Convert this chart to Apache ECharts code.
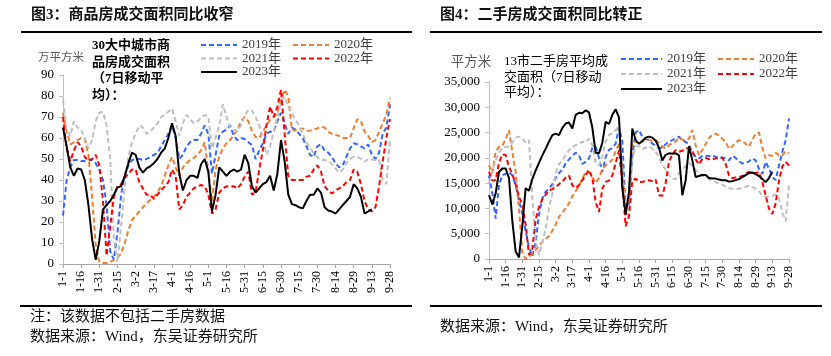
<!DOCTYPE html>
<html><head><meta charset="utf-8">
<script src="https://cdn.jsdelivr.net/npm/echarts/dist/echarts.min.js"></script>
<style>html,body{margin:0;padding:0;background:#fff}#c{width:831px;height:356px}</style>
</head><body><div id="c"></div>
<script>
// categories: every third day of the year (1-1 ... 9-28)
const dates = ['1-1','1-4','1-7','1-10','1-13','1-16','1-19','1-22','1-25','1-28','1-31',
 '2-3','2-6','2-9','2-12','2-15','2-18','2-21','2-24','2-27',
 '3-2','3-5','3-8','3-11','3-14','3-17','3-20','3-23','3-26','3-29',
 '4-1','4-4','4-7','4-10','4-13','4-16','4-19','4-22','4-25','4-28',
 '5-1','5-4','5-7','5-10','5-13','5-16','5-19','5-22','5-25','5-28','5-31',
 '6-3','6-6','6-9','6-12','6-15','6-18','6-21','6-24','6-27','6-30',
 '7-3','7-6','7-9','7-12','7-15','7-18','7-21','7-24','7-27','7-30',
 '8-2','8-5','8-8','8-11','8-14','8-17','8-20','8-23','8-26','8-29',
 '9-1','9-4','9-7','9-10','9-13','9-16','9-19','9-22','9-25','9-28'];

const yearNames = ['2019年','2020年','2021年','2022年','2023年'];

// 图3: 30大中城市商品房成交面积 (万平方米)
const newHome2019 = [23,40,46,49.5,49.5,49,49,50,49.5,48,
 45,40,28,6,2,15,33,42,47,49.5,
 50,50,49.5,50,51,52,53,56,59,62,
 66,60,50,52,56,58,59,59,62,66,
 62,43,52,61,63,64,66,61,59,60,
 59.5,58,56.7,50,54,57.5,62,63,63,68,
 72,67,62,65,64,62,60,56,52,51,
 56,57,54,53,51,48,46,47,51,55,
 57.5,57,56,55,57,52,50,53,62,65,
 76];
const newHome2020 = [72,63,57,58,59,60,59.5,52,32,9,
 1,0.5,0.5,1,2,3,5,10,16,21,
 23,25,27,29,30.5,32,34,37,42,47,
 51,46,42,46,48,49.5,50.5,52,54,58,
 44,30,45,51,55,57.5,59,61.5,64,68,
 70,68,63.5,60.5,60,63,66,68.6,70,72,
 78,83,80,64,63.5,64,64.6,63.5,63.5,64,
 64.6,65.4,65,63,62,61.5,61,60,60,60,
 64.6,69,68,63,61,58,59,63,67,71,
 79];
const newHome2021 = [78,64,61,68,65,64,60,55,59,68,
 72,72.5,66,50,12,1,18,37,51,58,
 62,66,65,62,63,65,67,70,71,72.5,
 74,68,61,67,71,69,67,68,69.5,71,
 70,55,60,66,76,70,65,64,63,66,
 70.5,73.5,73,70,66,60,52,56,63,70,
 77,79.7,75,71.7,68.6,66,62,58,55,53,
 51,49.5,49.6,49,47.5,45.5,43.5,45,48,50,
 51,51,50,48.7,50,49.8,49.5,49.5,40,38,
 59];
const newHome2022 = [70,55,49,54,58,56,51,49,50,52,
 47,30,4,18,32,37,38,41,43,45,
 45,39,36,33,33,31,33,35,37,39,
 45,42,26,28,32,34,36,37,37.6,37,
 33,24,26,34,36,37,36.8,37,36,38,
 41.6,44,33,34,45,54,66,75,70,75,
 83,62,42,40,40,40,40,41.6,42,45,
 47,44,37,35,33.6,35,36,37,39,40,
 45,44,38,30,26,25,27,37,49,60,
 69];
const newHome2023 = [65,56,46,42,45.5,45,40,28,12,2,
 11,26,28,30,33,36.5,37,42,48,53,
 52,46,43.5,45.5,46.5,48,50,53,55,60,
 67,61,43,35,40,42,42,41,47.5,50,
 44,25,33,46,44,42,44,45,44,45,
 52,48,37,34,36,38,39,42,35,43,
 59,49,33,28.5,28,27,26.5,30,33,33,
 36,34,27,25.5,25,24,26,28,30,32,
 38,36,32,24,25,26,null,null,null,null,
 null];

// 图4: 13市二手房平均成交面积 (平方米)
const usedHome2019 = [16500,13000,8000,14600,16600,16800,17200,16500,14600,11500,
 9000,5500,2300,500,3300,8800,12000,13300,13900,14800,
 16000,17000,17700,18900,19700,20400,21000,20500,18800,19200,
 19900,22000,22200,20000,17200,20200,21550,22000,22800,26000,
 23200,10000,11000,20500,25000,25500,24200,23700,23500,22800,
 22400,21900,22000,22700,23200,23500,23800,24200,23400,23200,
 22600,21000,20200,19900,20400,20400,20300,20500,20200,19900,
 20100,19900,19500,20400,20000,19300,18900,19000,19300,19900,
 19500,17800,16800,19200,17900,16200,15600,18500,21200,23500,
 27800];
const usedHome2020 = [18560,17000,21200,22200,22400,23700,25500,21200,17200,10000,
 1300,0,300,1100,1800,2600,3400,4000,4500,5600,
 6800,8300,9200,10000,11000,12400,13400,14400,16000,17100,
 17240,16200,15000,16000,17800,18500,19000,19700,21300,22800,
 18000,9500,12000,23200,23200,22900,23300,23800,23600,23300,
 23500,23000,22200,21900,22500,22900,23200,24000,23600,23500,
 23800,25500,22500,20500,21600,22700,23900,24600,24800,24400,
 23800,23100,21800,22300,23000,23500,23300,22800,22200,23600,
 24800,25000,22000,19900,20500,20400,21000,20500,20500,21300,
 20900];
const usedHome2021 = [15000,17500,19500,21000,22000,22200,22200,23000,24000,24200,
 23800,23000,23500,12000,3500,800,3300,6000,10000,13000,
 17000,18800,19500,20500,21500,22200,22500,22700,23200,23000,
 23800,22500,19000,18500,20500,23200,24500,24900,25500,26300,
 18000,8500,9500,19500,22300,22300,21800,22000,22300,21800,
 21300,20000,18500,17700,16600,15900,15800,17000,17700,18400,
 19000,18500,17600,17000,16500,16200,15800,15400,15200,14900,
 14700,14300,14000,13900,13900,13900,14100,14300,14500,14200,
 13900,13400,12500,12300,12300,12500,12800,12000,9200,7500,
 14600];
const usedHome2022 = [17240,15500,15600,19000,20700,20550,18200,16800,14800,12300,
 10800,6800,800,2000,7800,10300,11800,12700,13600,13800,
 14200,14800,15300,16100,16500,14600,14000,14600,15600,16600,
 17600,16000,11270,9300,13900,15250,15500,16500,19000,21500,
 15000,6500,8500,15500,15900,15250,15250,15400,15580,15400,
 15700,12600,12500,15000,19200,20700,21550,21200,21400,21900,
 21900,21500,19700,18700,19800,20000,19700,19700,19900,20100,
 20000,18800,16500,16000,16100,16200,16400,16900,17200,17000,
 17000,17200,15250,12600,9950,8900,11000,15500,18300,19200,
 18500];
const usedHome2023 = [12600,10800,13000,17200,17900,17900,16000,7500,1500,300,
 6600,14000,13500,15800,17500,19000,20500,21800,23200,24500,
 24800,24500,25900,26800,27000,25800,28500,28900,28800,29400,
 29000,26000,21000,20900,23000,27100,26700,28500,29600,28000,
 14000,8800,13260,25800,23500,22800,23300,24000,24200,24000,
 23400,22000,19500,20600,20900,20800,20900,20500,12600,15580,
 22300,19500,16200,16400,16600,16600,16000,15900,15900,15700,
 15580,15580,15300,15400,15600,15800,16200,16600,17000,17100,
 16800,16400,15800,15200,16000,17240,null,null,null,null,
 null];

const colors = ['#3366FF','#ED7D31','#BFBFBF','#FF0000','#000000'];
const SERIF = '"Liberation Serif","Noto Sans CJK SC",serif';
const CJK = '"Liberation Serif","Noto Sans CJK SC",sans-serif';

function mk(name, data, idx, gi){
  const solid = idx === 4;
  return {type:'line', name:name, data:data, xAxisIndex:gi, yAxisIndex:gi,
    symbol:'none', showSymbol:false, silent:true, connectNulls:false,
    lineStyle:{color:colors[idx], width:2, type: solid ? 'solid' : [5,3]},
    itemStyle:{color:colors[idx]}, z: 2 + idx};
}
const leftData = [newHome2019,newHome2020,newHome2021,newHome2022,newHome2023];
const rightData = [usedHome2019,usedHome2020,usedHome2021,usedHome2022,usedHome2023];
const series = [];
leftData.forEach((d,i)=>series.push(mk(yearNames[i], d, i, 0)));
rightData.forEach((d,i)=>series.push(mk(yearNames[i], d, i, 1)));

function xAx(gi){
  return {type:'category', gridIndex:gi, data:dates, boundaryGap:false,
    axisLine:{show:true, lineStyle:{color:'#a6a6a6', width:1}},
    axisTick:{show:true, interval:4, length:4, lineStyle:{color:'#a6a6a6'}},
    axisLabel:{interval:4, rotate:90, margin:7, fontFamily:SERIF, fontSize:12, color:'#000'},
    splitLine:{show:false}};
}
function yAx(gi, max, interval){
  return {type:'value', gridIndex:gi, min:0, max:max, interval:interval,
    axisLine:{show:true, lineStyle:{color:'#bfbfbf', width:1}},
    axisTick:{show:true, length:4, lineStyle:{color:'#bfbfbf'}},
    axisLabel:{margin:9, fontFamily:SERIF, fontSize:13, color:'#000'},
    splitLine:{show:false}};
}
const legText = {fontFamily:CJK, fontSize:13, color:'#404040'};
function leg(left, top, gap, w, names){
  return {orient:'vertical', left:left, top:top, itemGap:gap, itemWidth:w, itemHeight:10,
    padding:0, data:names, textStyle:legText, selectedMode:false,
    itemStyle:{opacity:0}};
}

const chart = echarts.init(document.getElementById('c'), null, {renderer:'canvas'});
chart.setOption({
  animation:false,
  backgroundColor:'#fff',
  grid:[
    {left:63, right:441, top:75, bottom:92, containLabel:false, outerBoundsMode:'none'},
    {left:489, right:42, top:82, bottom:97, containLabel:false, outerBoundsMode:'none'}
  ],
  xAxis:[xAx(0), xAx(1)],
  yAxis:[yAx(0, 90, 10), yAx(1, 35000, 5000)],
  legend:[
    leg(200, 38.5, 0.5, 36, ['2019年','2021年','2023年']),
    leg(292, 38.5, 0.5, 36, ['2020年','2022年']),
    leg(620, 52.5, 2, 41, ['2019年','2021年','2023年']),
    leg(717, 52.5, 2, 36, ['2020年','2022年'])
  ],
  series:series,
  graphic:[
    {type:'text', x:31, y:15, style:{text:'图3：商品房成交面积同比收窄', fontFamily:CJK, fontWeight:'bold', fontSize:15, fill:'#111', verticalAlign:'middle'}},
    {type:'text', x:440, y:15, style:{text:'图4：二手房成交面积同比转正', fontFamily:CJK, fontWeight:'bold', fontSize:15, fill:'#111', verticalAlign:'middle'}},
    {type:'line', shape:{x1:21,y1:32,x2:412,y2:32}, style:{stroke:'#000', lineWidth:2}},
    {type:'line', shape:{x1:430,y1:32,x2:822,y2:32}, style:{stroke:'#000', lineWidth:2}},
    {type:'line', shape:{x1:20,y1:306,x2:412,y2:306}, style:{stroke:'#000', lineWidth:2}},
    {type:'line', shape:{x1:430,y1:306,x2:822,y2:306}, style:{stroke:'#000', lineWidth:2}},
    {type:'text', x:61, y:58, style:{text:'万平方米', fontFamily:CJK, fontSize:11.5, fill:'#595959', align:'center', verticalAlign:'middle'}},
    {type:'text', x:471, y:62, style:{text:'平方米', fontFamily:CJK, fontSize:13.5, fill:'#595959', align:'center', verticalAlign:'middle'}},
    {type:'text', x:92, y:37.5, style:{text:'30大中城市商\n品房成交面积\n（7日移动平\n均）：', fontFamily:CJK, fontWeight:'bold', fontSize:13, lineHeight:16.5, fill:'#000', verticalAlign:'top'}},
    {type:'text', x:504, y:54.3, style:{text:'13市二手房平均成\n交面积（7日移动\n平均）：', fontFamily:CJK, fontSize:13, lineHeight:15.3, fill:'#000', verticalAlign:'top'}},
    {type:'text', x:30, y:317, style:{text:'注：该数据不包括二手房数据', fontFamily:CJK, fontSize:15, fill:'#111', verticalAlign:'middle'}},
    {type:'text', x:30, y:337, style:{text:'数据来源：Wind，东吴证券研究所', fontFamily:CJK, fontSize:15, fill:'#111', verticalAlign:'middle'}},
    {type:'text', x:440, y:327, style:{text:'数据来源：Wind，东吴证券研究所', fontFamily:CJK, fontSize:15, fill:'#111', verticalAlign:'middle'}}
  ]
});
</script>
</body></html>
